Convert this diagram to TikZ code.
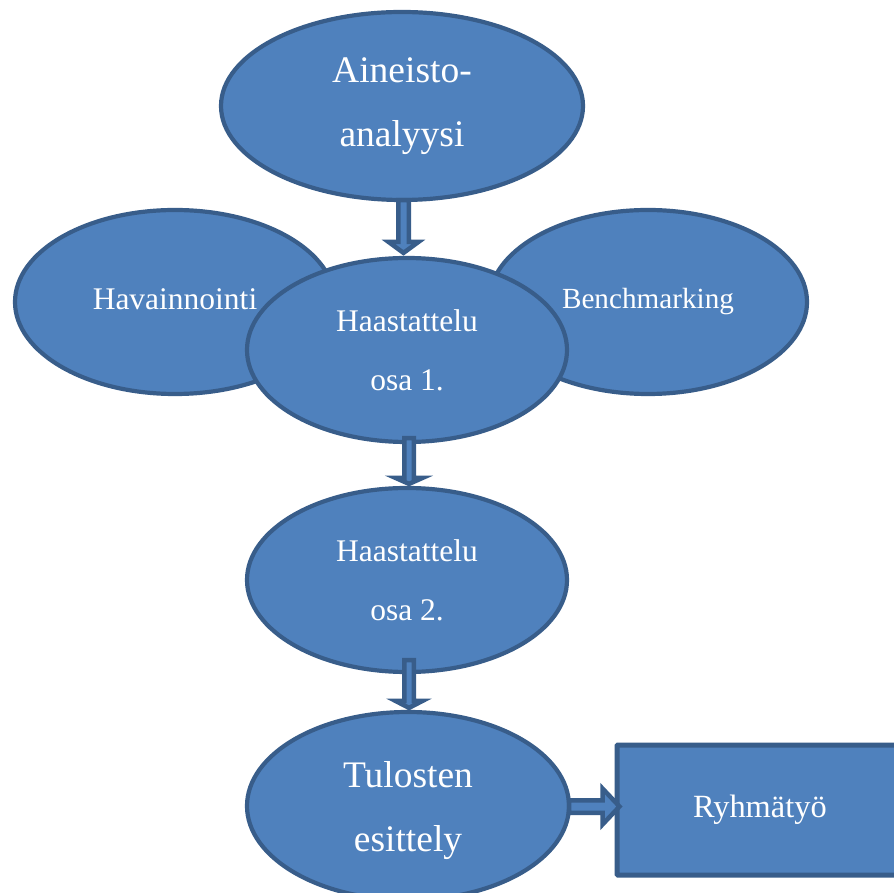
\documentclass[tikz,border=0pt]{standalone}
\usepackage{fontspec}
\setmainfont{Liberation Serif}
\usetikzlibrary{shapes.geometric,calc}
\definecolor{bfill}{HTML}{4F81BD}
\definecolor{bline}{HTML}{385D8A}
\tikzset{
 oval/.style={ellipse, draw=bline, fill=bfill, line width=4.2pt, inner sep=0pt, text=white, align=center},
 box/.style={rectangle, draw=bline, fill=bfill, line width=5pt, inner sep=0pt, text=white, rounded corners=1pt},
 barrow/.style={draw=bline, fill=bfill, line width=4.5pt, line join=miter},
 big/.style={font=\fontsize{37.5}{64}\selectfont},
 mid/.style={font=\fontsize{31.5}{59}\selectfont},
 sml/.style={font=\fontsize{29.2}{40}\selectfont},
}
\begin{document}
\begin{tikzpicture}[x=1pt,y=1pt]
\clip (0,0) rectangle (894,892);
\fill[white] (0,0) rectangle (894,892);
\node[oval, mid, minimum width=320pt, minimum height=184pt] (hav) at (175,590) {\raisebox{6pt}{Havainnointi}};
\node[oval, sml, minimum width=318pt, minimum height=184pt] (ben) at (648,590) {\raisebox{6pt}{Benchmarking}};
\node[oval, big, minimum width=362pt, minimum height=188pt] (top) at (402,786) {Aineisto-\\analyysi};
\node[oval, mid, minimum width=320pt, minimum height=184pt] (h1) at (407,542) {Haastattelu\\osa 1.};
\node[oval, mid, minimum width=320pt, minimum height=184pt] (h2) at (407,312) {Haastattelu\\osa 2.};
\node[oval, big, minimum width=322pt, minimum height=188pt] (h3) at (408,86) {};
\node[big, text=white, align=center, inner sep=0pt] (h3t) at ($(h3.center)+(0pt,-5pt)$) {Tulosten\\esittely};
\node[box, font=\fontsize{32.4}{40}\selectfont, minimum width=300pt, minimum height=130pt, text width=300pt, align=left] (rect) at (767,82) {\hspace*{76pt}\raisebox{3pt}{Ryhmätyö}};
% arrows
\draw[barrow] let \p1=($(top.south)+(1.5pt,2pt)$), \p2=($(h1.north)+(0pt,0pt)$) in
 (\x1-5.25pt,\y1) -- (\x1+5.25pt,\y1) -- (\x1+5.25pt,\y2+14pt) -- (\x1+15pt,\y2+14pt) -- (\x1,\y2+3pt) -- (\x1-15pt,\y2+14pt) -- (\x1-5.25pt,\y2+14pt) -- cycle;
\draw[barrow] let \p1=($(h1.south)+(2pt,6pt)$), \p2=($(h2.north)+(2pt,0pt)$) in
 (\x1-4.75pt,\y1) -- (\x1+4.75pt,\y1) -- (\x1+4.75pt,\y2+8pt) -- (\x1+13.5pt,\y2+8pt) -- (\x1,\y2+2pt) -- (\x1-13.5pt,\y2+8pt) -- (\x1-4.75pt,\y2+8pt) -- cycle;
\draw[barrow] let \p1=($(h2.south)+(2pt,14pt)$), \p2=($(h3.north)+(1pt,0pt)$) in
 (\x1-4.75pt,\y1) -- (\x1+4.75pt,\y1) -- (\x1+4.75pt,\y2+9pt) -- (\x1+13.5pt,\y2+9pt) -- (\x1,\y2+2pt) -- (\x1-13.5pt,\y2+9pt) -- (\x1-4.75pt,\y2+9pt) -- cycle;
\draw[barrow] let \p1=($(h3.east)+(-2pt,-0.5pt)$), \p2=($(rect.west)+(5pt,0pt)$) in
 (\x1,\y1+6.25pt) -- (\x2-17pt,\y1+6.25pt) -- (\x2-17pt,\y1+18pt) -- (\x2,\y1) -- (\x2-17pt,\y1-18pt) -- (\x2-17pt,\y1-6.25pt) -- (\x1,\y1-6.25pt) -- cycle;
\end{tikzpicture}
\end{document}
